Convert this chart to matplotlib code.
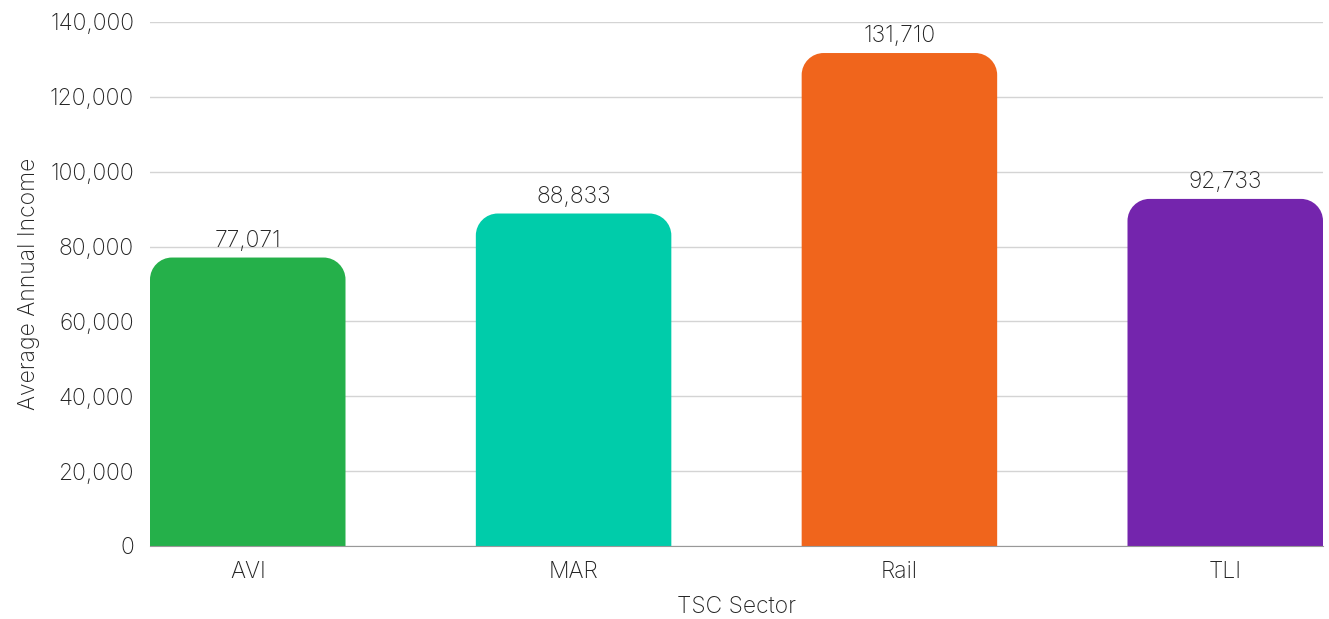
import matplotlib.pyplot as plt
from matplotlib.path import Path
from matplotlib.patches import PathPatch
from matplotlib.ticker import FuncFormatter

SECTORS = ["AVI", "MAR", "Rail", "TLI"]
INCOME = [77071, 88833, 131710, 92733]
COLORS = ["#25B04A", "#00CCAA", "#F0651C", "#7425AD"]

plt.rcParams["font.family"] = ["Inter", "DejaVu Sans"]
TEXT = "#222222"
FS = 16.5

W, H = 1329, 619
fig = plt.figure(figsize=(W / 100, H / 100), dpi=100)
ax = fig.add_axes([150 / W, (H - 546) / H, (1323 - 150) / W, (546 - 22) / H])

bars = ax.bar(range(len(SECTORS)), INCOME, width=0.6, color=COLORS, zorder=3)
ax.set_xlim(-0.3, len(SECTORS) - 0.7)
ax.set_ylim(0, 140000)
ax.set_yticks(range(0, 140001, 20000))
ax.yaxis.set_major_formatter(FuncFormatter(lambda v, _: f"{v:,.0f}"))

# rounded top corners: radius given in pixels, converted to data units per axis
fig.canvas.draw()
bbox = ax.get_window_extent()
px_x = (ax.get_xlim()[1] - ax.get_xlim()[0]) / bbox.width
px_y = (ax.get_ylim()[1] - ax.get_ylim()[0]) / bbox.height
r = 22
rx, ry = r * px_x, r * px_y
k = 0.5523
for bar in bars:
    x0, y0 = bar.get_x(), bar.get_y()
    x1, y1 = x0 + bar.get_width(), y0 + bar.get_height()
    verts = [
        (x0, y0), (x0, y1 - ry),
        (x0, y1 - ry + k * ry), (x0 + rx - k * rx, y1), (x0 + rx, y1),
        (x1 - rx, y1),
        (x1 - rx + k * rx, y1), (x1, y1 - ry + k * ry), (x1, y1 - ry),
        (x1, y0), (x0, y0),
    ]
    codes = [Path.MOVETO, Path.LINETO,
             Path.CURVE4, Path.CURVE4, Path.CURVE4,
             Path.LINETO,
             Path.CURVE4, Path.CURVE4, Path.CURVE4,
             Path.LINETO, Path.CLOSEPOLY]
    ax.add_patch(PathPatch(Path(verts, codes), facecolor=bar.get_facecolor(),
                           edgecolor="none", zorder=3))
    bar.set_visible(False)
    ax.annotate(f"{int(bar.get_height()):,}", (bar.get_x() + bar.get_width() / 2, y1),
                xytext=(0, 4), textcoords="offset points", ha="center", va="bottom",
                fontsize=FS, color=TEXT, fontweight="light")

ax.set_xticks(range(len(SECTORS)))
ax.set_xticklabels(SECTORS)
ax.grid(True, axis="y", color="#d4d4d4", lw=1, zorder=0)
for s in ("top", "right", "left"):
    ax.spines[s].set_visible(False)
ax.spines["bottom"].set_color("#999999")
ax.spines["bottom"].set_zorder(4)
ax.tick_params(axis="y", length=0, labelsize=FS, colors=TEXT, pad=11.5)
ax.tick_params(axis="x", length=0, labelsize=FS, colors=TEXT, pad=11)
for lbl in ax.get_xticklabels() + ax.get_yticklabels():
    lbl.set_fontweight("light")

ax.set_ylabel("Average Annual Income", fontsize=FS, color=TEXT, fontweight="light", labelpad=7)
ax.set_xlabel("TSC Sector", fontsize=FS, color=TEXT, fontweight="light", labelpad=9)

fig.savefig("out.png", dpi=100)
